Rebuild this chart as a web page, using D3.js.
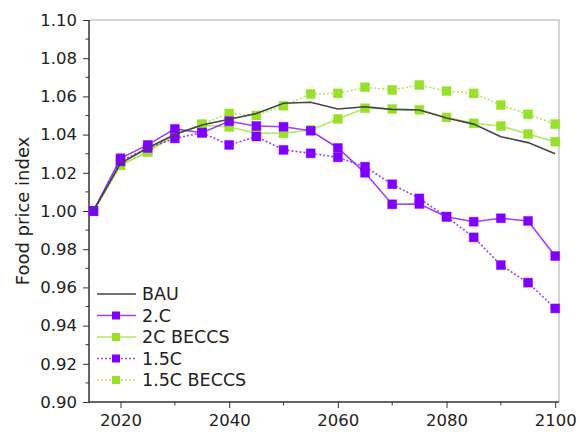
<!DOCTYPE html>
<html>
<head>
<meta charset="utf-8">
<script src="https://cdn.jsdelivr.net/npm/d3@7"></script>
<style>
  body { margin: 0; background: #fff; }
  svg text { font-family: "DejaVu Sans", sans-serif; fill: #222; }
</style>
</head>
<body>
<div id="chart"></div>
<script>
// years on the x axis
var years = [2015, 2020, 2025, 2030, 2035, 2040, 2045, 2050, 2055, 2060,
  2065, 2070, 2075, 2080, 2085, 2090, 2095, 2100];

// series values
var bau = [1.000, 1.025, 1.033, 1.040, 1.045, 1.048, 1.051, 1.0564, 1.0569, 1.0534,
  1.0546, 1.0532, 1.0529, 1.0487, 1.0455, 1.0389, 1.0358, 1.030];
var c2 = [1.000, 1.0276, 1.0346, 1.043, 1.041, 1.047, 1.0445, 1.0441, 1.042, 1.033,
  1.020, 1.0035, 1.0037, 0.997, 0.9944, 0.9962, 0.9948, 0.9764];
var c2Beccs = [1.000, 1.024, 1.031, 1.040, 1.045, 1.044, 1.0407, 1.0407, 1.0424, 1.0482,
  1.0538, 1.0534, 1.053, 1.049, 1.0459, 1.0445, 1.0403, 1.0363];
var c15 = [1.000, 1.026, 1.033, 1.038, 1.041, 1.0346, 1.039, 1.032, 1.0302, 1.0281,
  1.0232, 1.014, 1.0066, 0.997, 0.9862, 0.9717, 0.9625, 0.949];
var c15Beccs = [1.000, 1.024, 1.031, 1.040, 1.0455, 1.0511, 1.0500, 1.0551, 1.0613, 1.0616,
  1.0648, 1.0634, 1.066, 1.0628, 1.0616, 1.0555, 1.0506, 1.0455];

var yTicks = [0.90, 0.92, 0.94, 0.96, 0.98, 1.00, 1.02, 1.04, 1.06, 1.08, 1.10];
var xTicks = [2020, 2040, 2060, 2080, 2100];

var purple = '#8000ff', green = '#99e02a';

var series = [
  { name: 'BAU', values: bau, color: '#444', dash: null, marker: false },
  { name: '2.C', values: c2, color: purple, dash: null, marker: true },
  { name: '2C BECCS', values: c2Beccs, color: green, dash: null, marker: true },
  { name: '1.5C', values: c15, color: purple, dash: '2,2', marker: true },
  { name: '1.5C BECCS', values: c15Beccs, color: green, dash: '2,2', marker: true }
];

var width = 580, height = 432;
var margin = { left: 89, right: 21, top: 20, bottom: 30 };
var innerW = width - margin.left - margin.right,
  innerH = height - margin.top - margin.bottom;

var x = d3.scaleLinear().domain([2014.2, 2100.7]).range([0, innerW]);
var y = d3.scaleLinear().domain([0.90, 1.10]).range([innerH, 0]);

var svg = d3.select('#chart').append('svg')
  .attr('width', width).attr('height', height);
var g = svg.append('g')
  .attr('transform', 'translate(' + margin.left + ',' + margin.top + ')');

// light frame on top and right
g.append('path')
  .attr('d', 'M0,0H' + innerW + 'V' + innerH)
  .attr('fill', 'none').attr('stroke', '#c8c8c8').attr('stroke-width', 1.5);

// minor ticks
var yMinor = d3.range(0, 10).map(function (i) { return 0.91 + i * 0.02; });
g.append('g').selectAll('line').data(yMinor).enter().append('line')
  .attr('x1', -3.5).attr('x2', 0)
  .attr('y1', function (d) { return y(d); }).attr('y2', function (d) { return y(d); })
  .attr('stroke', '#333');
var xMinor = [2030, 2050, 2070, 2090];
g.append('g').selectAll('line').data(xMinor).enter().append('line')
  .attr('y1', innerH).attr('y2', innerH + 3.5)
  .attr('x1', function (d) { return x(d); }).attr('x2', function (d) { return x(d); })
  .attr('stroke', '#333');

// axes
var yAxis = d3.axisLeft(y).tickValues(yTicks).tickFormat(d3.format('.2f'))
  .tickSize(6).tickPadding(6);
var gY = g.append('g').call(yAxis);
var xAxis = d3.axisBottom(x).tickValues(xTicks).tickFormat(d3.format('d'))
  .tickSize(6).tickPadding(6);
var gX = g.append('g').attr('transform', 'translate(0,' + innerH + ')').call(xAxis);

[gX, gY].forEach(function (a) {
  a.select('.domain').attr('stroke', '#333').attr('stroke-width', 1.5);
  a.selectAll('.tick line').attr('stroke', '#333');
  a.selectAll('.tick text').attr('fill', '#222');
});
gY.selectAll('.tick text').attr('font-size', 16.5);
gX.selectAll('.tick text').attr('font-size', 16.5);
gY.select('.domain').attr('d', 'M0,' + (innerH + 1) + 'V0');
gX.select('.domain').attr('d', 'M0,0H' + innerW);

// y label
svg.append('text')
  .attr('transform', 'translate(29,' + 211 + ') rotate(-90)')
  .attr('text-anchor', 'middle')
  .attr('font-size', 18)
  .text('Food price index');

// lines
var line = d3.line()
  .x(function (d, i) { return x(years[i]); })
  .y(function (d) { return y(d); });

// draw order: greens then purples then BAU
var order = [2, 4, 1, 3, 0];
order.forEach(function (k) {
  var s = series[k];
  g.append('path')
    .attr('d', line(s.values))
    .attr('fill', 'none')
    .attr('stroke', s.color)
    .attr('stroke-opacity', s.marker ? 0.75 : 1)
    .attr('stroke-width', 1.6)
    .attr('stroke-dasharray', s.dash);
  if (s.marker) {
    g.append('g').selectAll('rect').data(s.values).enter().append('rect')
      .attr('x', function (d, i) { return x(years[i]) - 4.5; })
      .attr('y', function (d) { return y(d) - 4.5; })
      .attr('width', 9).attr('height', 9)
      .attr('fill', s.color)
      .attr('stroke', s.color).attr('stroke-opacity', 0.4).attr('stroke-width', 1);
  }
});

// legend
var legend = svg.append('g').attr('transform', 'translate(97,294)');
series.forEach(function (s, i) {
  var row = legend.append('g').attr('transform', 'translate(0,' + (i * 21.5) + ')');
  row.append('line')
    .attr('x1', 0).attr('x2', 39).attr('y1', 0).attr('y2', 0)
    .attr('stroke', s.color)
    .attr('stroke-opacity', s.marker ? 0.75 : 1)
    .attr('stroke-width', 1.6)
    .attr('stroke-dasharray', s.dash);
  if (s.marker) {
    row.append('rect')
      .attr('x', 15).attr('y', -4).attr('width', 8).attr('height', 8)
      .attr('fill', s.color);
  }
  row.append('text')
    .attr('x', 45).attr('y', 6)
    .attr('font-size', 17.5)
    .text(s.name);
});
</script>
</body>
</html>
